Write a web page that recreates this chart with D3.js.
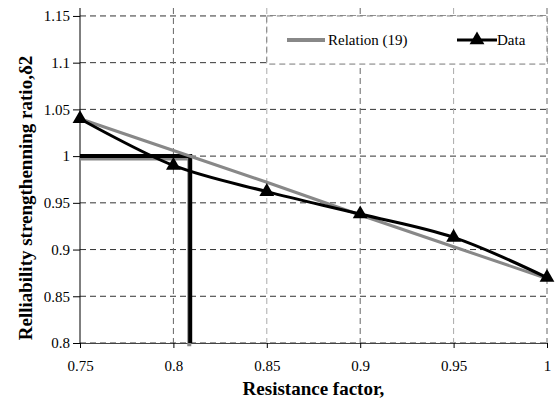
<!DOCTYPE html>
<html>
<head>
<meta charset="utf-8">
<script src="https://cdn.jsdelivr.net/npm/d3@7"></script>
</head>
<body style="margin:0; background:#fff">
<div id="container"></div>
<script>
/* DATA */
const factors = [0.75, 0.8, 0.85, 0.9, 0.95, 1.0];
const relation19 = [1.04, 1.006, 0.972, 0.937, 0.903, 0.869];
const dataRatio = [1.04, 0.99, 0.962, 0.938, 0.913, 0.87];
const targetBlack = [[0.75, 1.0], [0.809, 1.0], [0.809, 0.8]];
const targetGray = [[0.75, 0.9975], [0.8085, 0.9975], [0.8085, 0.7965]];
const xTicks = [0.75, 0.8, 0.85, 0.9, 0.95, 1];
const yTicks = [0.8, 0.85, 0.9, 0.95, 1, 1.05, 1.1, 1.15];
const legendItems = ["Relation (19)", "Data"];

/* CONSTANTS */
const width = 555;
const height = 401;
const mLeft = 80, mRight = 547, mTop = 8, mBottom = 343;
const serif = "Liberation Serif";

const svg = d3.select("#container")
  .append("svg")
  .attr("width", width)
  .attr("height", height)
  .attr("font-family", serif)
  .style("display", "block")

const xScale = d3.scaleLinear()
  .domain([0.75, 1])
  .range([mLeft, mRight])

const yScale = d3.scaleLinear()
  .domain([0.8, 1.1585])
  .range([mBottom, mTop])

// grid
svg.append("g")
  .selectAll("line")
  .data(yTicks)
  .join("line")
  .attr("x1", mLeft).attr("x2", mRight)
  .attr("y1", d => yScale(d)).attr("y2", d => yScale(d))
  .attr("stroke", "#333")
  .attr("stroke-dasharray", "6,4")

svg.append("g")
  .selectAll("line")
  .data(xTicks.slice(1))
  .join("line")
  .attr("x1", d => xScale(d)).attr("x2", d => xScale(d))
  .attr("y1", mTop).attr("y2", mBottom)
  .attr("stroke", (d, i) => i % 2 ? "#aaa" : "#666")
  .attr("stroke-dasharray", "6,4")

// axes
const xAxis = d3.axisBottom(xScale)
  .tickValues(xTicks)
  .tickSize(5)
  .tickPadding(12)
  .tickFormat(d => String(d))
svg.append("g")
  .attr("transform", `translate(0, ${mBottom})`)
  .call(xAxis)
  .attr("font-family", serif)
  .attr("font-size", 15)
  .call(g => g.select(".domain").attr("stroke", "#444"))
  .call(g => g.selectAll("text").attr("font-family", serif).attr("fill", "#000"))

const yAxis = d3.axisLeft(yScale)
  .tickValues(yTicks)
  .tickSize(7)
  .tickPadding(3)
  .tickFormat(d => String(d))
svg.append("g")
  .attr("transform", `translate(${mLeft}, 0)`)
  .call(yAxis)
  .attr("font-family", serif)
  .attr("font-size", 15)
  .call(g => g.select(".domain").attr("d", `M-0,${mTop}V${mBottom}`))
  .call(g => g.selectAll("text").attr("font-family", serif).attr("fill", "#000"))

// target lines
const pathLine = d3.line()
  .x(d => xScale(d[0]))
  .y(d => yScale(d[1]))

svg.append("path")
  .attr("d", pathLine(targetGray))
  .attr("fill", "none")
  .attr("stroke", "#888")
  .attr("stroke-width", 4)

svg.append("path")
  .attr("d", pathLine(targetBlack))
  .attr("fill", "none")
  .attr("stroke", "#000")
  .attr("stroke-width", 4)

// relation (19)
svg.append("path")
  .attr("d", d3.line()
    .x((d, i) => xScale(factors[i]))
    .y(d => yScale(d))(relation19))
  .attr("fill", "none")
  .attr("stroke", "#888")
  .attr("stroke-width", 3)

// data
svg.append("path")
  .attr("d", d3.line()
    .curve(d3.curveCatmullRom.alpha(0.5))
    .x((d, i) => xScale(factors[i]))
    .y(d => yScale(d))(dataRatio))
  .attr("fill", "none")
  .attr("stroke", "#000")
  .attr("stroke-width", 3)

const tri = d3.symbol().type(d3.symbolTriangle).size(95)
svg.selectAll(".mark")
  .data(dataRatio)
  .join("path")
  .attr("class", "mark")
  .attr("d", tri)
  .attr("transform", (d, i) => `translate(${xScale(factors[i])}, ${yScale(d)})`)
  .attr("fill", "#000")

// legend
const lx0 = xScale(0.85), lx1 = xScale(1), ly0 = yScale(1.15), ly1 = yScale(1.0985)
svg.append("rect")
  .attr("x", lx0).attr("y", ly0)
  .attr("width", lx1 - lx0).attr("height", ly1 - ly0)
  .attr("fill", "#fff")
  .attr("stroke", "#777")
  .attr("stroke-dasharray", "6,4")

const ly = (ly0 + ly1) / 2
const legend = svg.append("g")
legend.append("line")
  .attr("x1", 287).attr("x2", 325).attr("y1", ly).attr("y2", ly)
  .attr("stroke", "#888").attr("stroke-width", 4)
legend.append("text")
  .attr("x", 328).attr("y", ly + 5)
  .attr("font-family", serif).attr("font-size", 15)
  .text(legendItems[0])
legend.append("line")
  .attr("x1", 457).attr("x2", 497).attr("y1", ly).attr("y2", ly)
  .attr("stroke", "#000").attr("stroke-width", 3)
legend.append("path")
  .attr("d", tri)
  .attr("transform", `translate(477, ${ly})`)
legend.append("text")
  .attr("x", 497).attr("y", ly + 5)
  .attr("font-family", serif).attr("font-size", 15)
  .text(legendItems[1])

// axis titles
svg.append("text")
  .attr("x", (mLeft + mRight) / 2)
  .attr("y", 395)
  .attr("text-anchor", "middle")
  .attr("font-family", serif).attr("font-size", 19)
  .attr("font-weight", "bold")
  .text("Resistance factor,")

svg.append("text")
  .attr("transform", `translate(32, 198) rotate(-90)`)
  .attr("text-anchor", "middle")
  .attr("font-family", serif).attr("font-size", 19)
  .attr("font-weight", "bold")
  .text("Relliability strengthenning ratio,δ2")
</script>
</body>
</html>
